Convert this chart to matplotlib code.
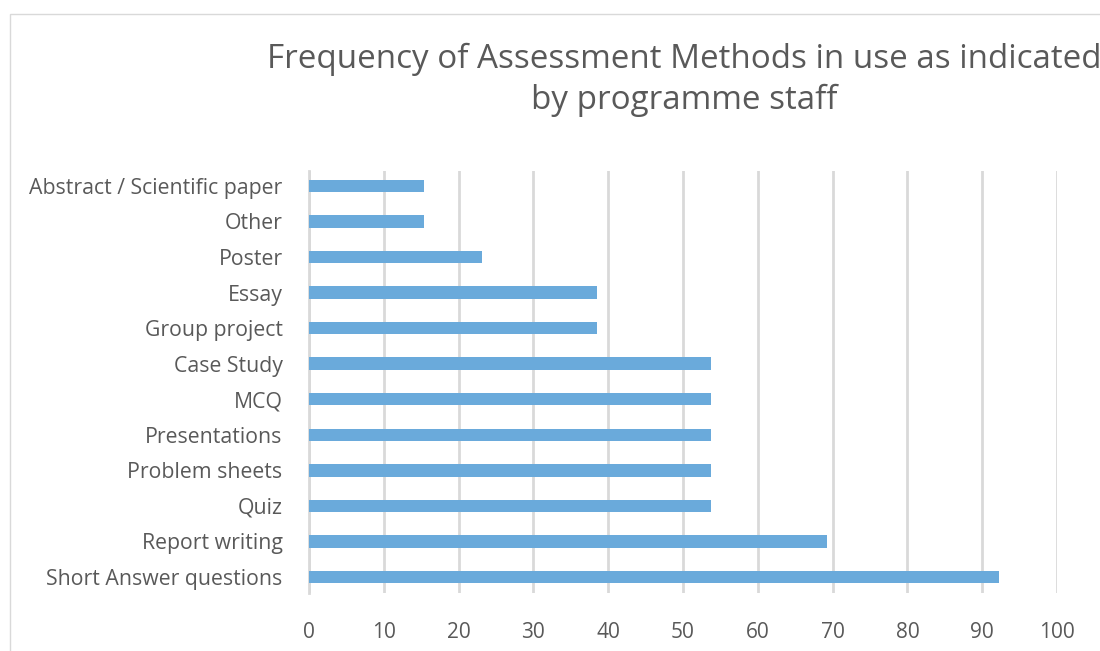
import matplotlib
matplotlib.use("Agg")
from matplotlib import pyplot as plt
from matplotlib.patches import Rectangle

categories = ["Short Answer questions", "Report writing", "Quiz", "Problem sheets",
              "Presentations", "MCQ", "Case Study", "Group project", "Essay",
              "Poster", "Other", "Abstract / Scientific paper"]
values = [92.3, 69.2, 53.8, 53.8, 53.8, 53.8, 53.8, 38.5, 38.5, 23.1, 15.4, 15.4]
x_ticks = [0, 10, 20, 30, 40, 50, 60, 70, 80, 90, 100]

plt.rcParams['font.family'] = ['Open Sans', 'DejaVu Sans']
text_col = '#595959'
grid_col = '#d9d9d9'

fig = plt.figure(figsize=(11, 6.51), dpi=100)
fig.patches.append(Rectangle((10/1100, -0.01), 1.1, (651-14)/651 + 0.01,
                             transform=fig.transFigure, fill=False,
                             edgecolor=grid_col, linewidth=1.0))
ax = fig.add_axes([309/1100, 58/651, (1057-309)/1100, (593-171)/651])

pos = list(range(len(categories)))
ax.barh(pos, values, height=0.35, color='#6aaadb', zorder=3)
ax.set_xlim(0, 100)
ax.set_ylim(-0.45, 11.42)
ax.set_yticks(pos)
ax.set_yticklabels(categories, fontsize=15.3, color=text_col)
ax.set_xticks(x_ticks)
ax.set_xticklabels([str(t) for t in x_ticks], fontsize=15, color=text_col)
ax.tick_params(length=0)
ax.tick_params(axis='x', pad=21)
ax.tick_params(axis='y', pad=19)
ax.grid(axis='x', color=grid_col, linewidth=2, zorder=0)
for s in ['top', 'right', 'bottom']:
    ax.spines[s].set_visible(False)
ax.spines['left'].set_color(grid_col)
ax.spines['left'].set_linewidth(2)

fig.text(684/1100, 1 - 80/651,
         "Frequency of Assessment Methods in use as indicated\nby programme staff",
         ha='center', va='center', fontsize=23.9, color=text_col, linespacing=1.33)

fig.savefig("out.png", dpi=100)
